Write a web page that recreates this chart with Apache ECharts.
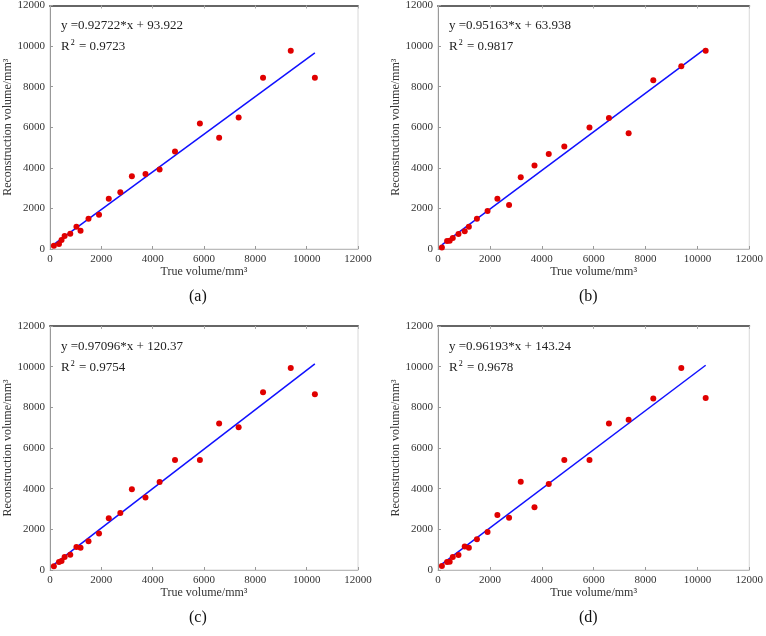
<!DOCTYPE html>
<html>
<head>
<meta charset="utf-8">
<script src="https://cdn.jsdelivr.net/npm/echarts@6/dist/echarts.min.js"></script>
<style>html,body{margin:0;padding:0;background:#fff;}#c{width:766px;height:636px;}</style>
</head>
<body>
<div id="c"></div>
<script>
// True volume (x), shared by all panels
var trueVol = [150, 350, 450, 570, 790, 1030, 1190, 1500, 1910, 2290, 2740, 3190, 3720, 4270, 4870, 5840, 6590, 7350, 8300, 9380, 10320];
// Reconstruction volume per panel
var reconA = [160, 250, 440, 640, 750, 1100, 900, 1490, 1690, 2480, 2800, 3590, 3690, 3920, 4810, 6190, 5480, 6480, 8440, 9770, 8440];
var reconB = [80, 390, 410, 540, 740, 870, 1100, 1490, 1870, 2480, 2170, 3530, 4120, 4680, 5050, 5990, 6450, 5710, 8320, 9010, 9770];
var reconC = [180, 390, 440, 640, 750, 1130, 1100, 1410, 1800, 2540, 2800, 3970, 3560, 4330, 5410, 5410, 7210, 7020, 8740, 9930, 8640];
var reconD = [200, 390, 410, 640, 740, 1150, 1100, 1510, 1870, 2700, 2570, 4340, 3080, 4230, 5410, 5410, 7210, 7390, 8430, 9930, 8460];
// Fit parameters
var slopes = [0.92722, 0.95163, 0.97096, 0.96193];
var intercepts = [93.922, 63.938, 120.37, 143.24];
var r2 = ['0.9723', '0.9817', '0.9754', '0.9678'];
var eqText = ['y =0.92722*x + 93.922', 'y =0.95163*x + 63.938', 'y =0.97096*x + 120.37', 'y =0.96193*x + 143.24'];
var panelLabels = ['(a)', '(b)', '(c)', '(d)'];
var axisTicks = [0, 2000, 4000, 6000, 8000, 10000, 12000];
var xName = 'True volume/mm³';
var yName = 'Reconstruction volume/mm³';

var recon = [reconA, reconB, reconC, reconD];
var grids = [
  {left: 50, top: 5, width: 308, height: 244},
  {left: 438, top: 5, width: 312, height: 244},
  {left: 50, top: 326, width: 308, height: 244},
  {left: 438, top: 326, width: 312, height: 244}
];
var FONT = '"Liberation Serif", "DejaVu Serif", serif';
var xAxes = [], yAxes = [], series = [], graphics = [];
function plain(v) { return String(v); }
grids.forEach(function(g, i) {
  g.show = true; g.borderColor = '#d8d8d8'; g.borderWidth = 1; g.containLabel = false;
  var common = {
    min: axisTicks[0], max: axisTicks[axisTicks.length - 1], interval: 2000,
    gridIndex: i, splitLine: {show: false},
    axisTick: {inside: true, length: 3, lineStyle: {color: '#999'}},
    axisLabel: {fontFamily: FONT, fontSize: 11, color: '#333', formatter: plain},
    nameTextStyle: {fontFamily: FONT, fontSize: 12, color: '#333'}
  };
  xAxes.push(Object.assign({}, common, {
    type: 'value', position: 'bottom', name: xName, nameLocation: 'middle', nameGap: 17,
    axisLine: {lineStyle: {color: '#bbb'}},
    axisLabel: Object.assign({}, common.axisLabel, {margin: 5})
  }));
  xAxes.push({
    type: 'value', gridIndex: i, position: 'top', min: 0, max: 12000, interval: 2000,
    axisLine: {show: true, lineStyle: {color: '#666', width: 2}},
    axisTick: {inside: true, length: 3, lineStyle: {color: '#aaa'}},
    axisLabel: {show: false}, splitLine: {show: false}
  });
  yAxes.push(Object.assign({}, common, {
    type: 'value', position: 'left', name: yName, nameLocation: 'middle', nameGap: 36,
    axisLine: {show: true, lineStyle: {color: '#999'}},
    axisLabel: Object.assign({}, common.axisLabel, {margin: 5})
  }));
  var pts = trueVol.map(function(x, k) { return [x, recon[i][k]]; });
  series.push({
    type: 'scatter', xAxisIndex: 2 * i, yAxisIndex: i, data: pts,
    symbolSize: 6, itemStyle: {color: '#e00000', opacity: 1}, z: 3
  });
  var x0 = trueVol[0], x1 = Math.max.apply(null, trueVol);
  series.push({
    type: 'line', xAxisIndex: 2 * i, yAxisIndex: i, showSymbol: false, symbol: 'none',
    data: [[x0, slopes[i] * x0 + intercepts[i]], [x1, slopes[i] * x1 + intercepts[i]]],
    lineStyle: {color: '#1010ff', width: 1.5}, z: 2
  });
  var tx = g.left + 11, ty = g.top + 14;
  graphics.push({type: 'text', left: tx, top: ty, style: {text: eqText[i], font: '13px ' + FONT, fill: '#222'}});
  graphics.push({type: 'text', left: tx, top: ty + 20, style: {
    text: '{b|R}{s|2}{b| = ' + r2[i] + '}',
    rich: {b: {font: '13px ' + FONT, fill: '#222', color: '#222'}, s: {font: '8px ' + FONT, verticalAlign: 'top', color: '#222', padding: [0, 1, 7, 1]}}
  }});
  graphics.push({type: 'text', x: g.left + g.width / 2 - 15, y: g.top + g.height + 40, style: {text: panelLabels[i], font: '16px ' + FONT, fill: '#111'}});
});

var chart = echarts.init(document.getElementById('c'));
chart.setOption({
  animation: false,
  backgroundColor: '#fff',
  grid: grids,
  xAxis: xAxes,
  yAxis: yAxes,
  series: series,
  graphic: graphics
});
</script>
</body>
</html>
